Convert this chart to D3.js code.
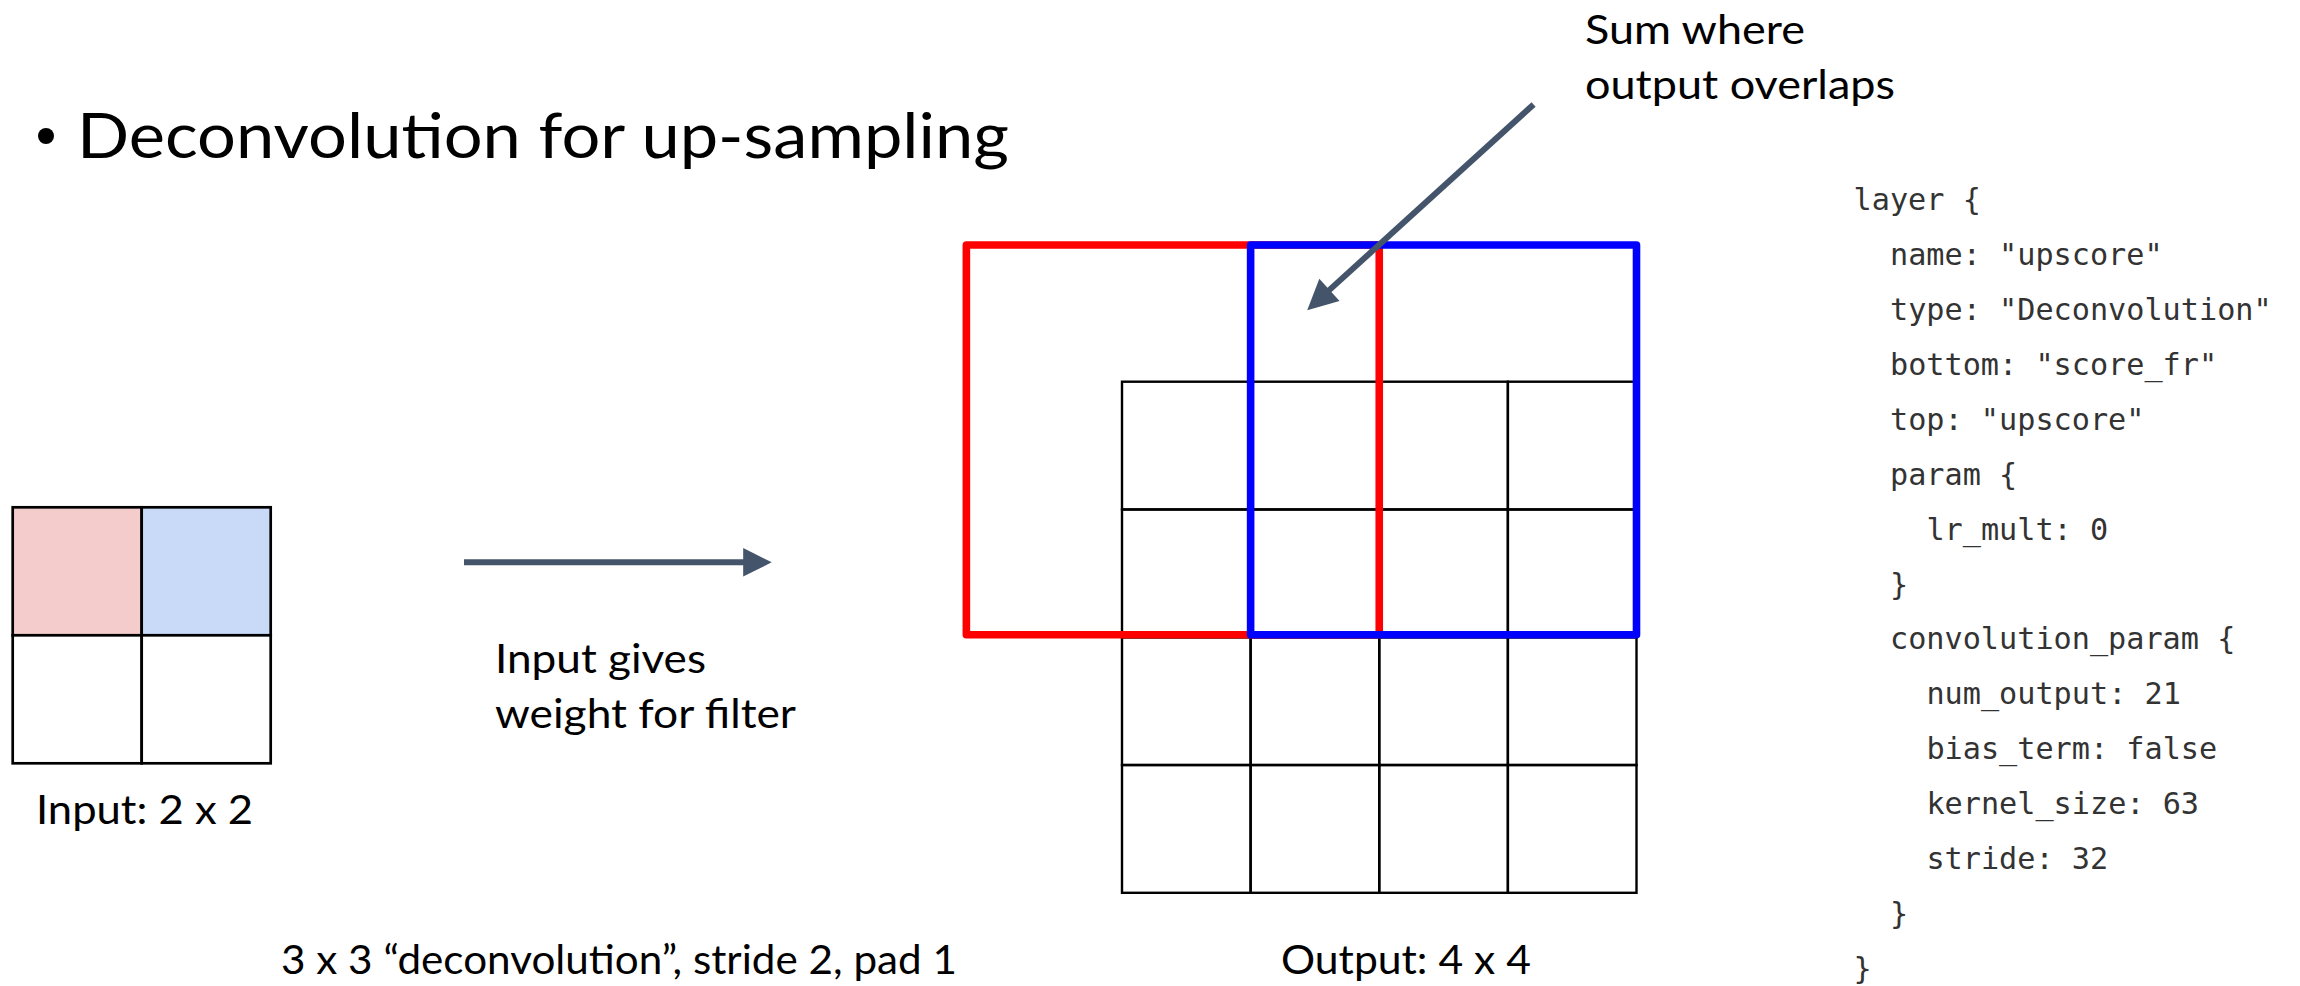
<!DOCTYPE html>
<html>
<head>
<meta charset="utf-8">
<script src="https://cdn.jsdelivr.net/npm/d3@7"></script>
<style>
  html, body { margin: 0; background: #fff; overflow: hidden; }
  .prose { font-family: Lato, "Open Sans", sans-serif; fill: #000; }
  .code { font-family: "DejaVu Sans Mono", "Liberation Mono", monospace; fill: #333; }
</style>
</head>
<body>
<svg id="chart" width="2300" height="986"></svg>
<script>
// values
const titleText = "Deconvolution for up-sampling"
const inputSize = 2
const inputSource = [["a", "b"], [null, null]]   // which filter window each input cell drives
const outputSize = 4
const windowKeys = ["a", "b"]
const windowX0 = [-1.21, 1.0]
const windowX1 = [2.0, 4.0]
const windowY0 = [-1.07, -1.07]
const windowY1 = [1.98, 1.98]
const overlapTip = [1.44, -0.56]
const overlapTail = [3.2, -2.17]
const noteTop = ["Sum where", "output overlaps"]
const noteMid = ["Input gives", "weight for filter"]
const inputLabel = "Input: 2 x 2"
const bottomCaption = "3 x 3 \u201cdeconvolution\u201d, stride 2, pad 1"
const outputLabel = "Output: 4 x 4"
const codeLines = [
    "layer {",
    "name: \"upscore\"",
    "type: \"Deconvolution\"",
    "bottom: \"score_fr\"",
    "top: \"upscore\"",
    "param {",
    "lr_mult: 0",
    "}",
    "convolution_param {",
    "num_output: 21",
    "bias_term: false",
    "kernel_size: 63",
    "stride: 32",
    "}",
    "}"
]
const codeIndent = [0, 1, 1, 1, 1, 1, 2, 1, 1, 2, 2, 2, 2, 1, 0]

const svg = d3.select("#chart")
const arrowColor = "#44546a"

const fillColor = d3.scaleOrdinal().domain(windowKeys).range(["#f4cccc", "#c9daf8"])
const edgeColor = d3.scaleOrdinal().domain(windowKeys).range(["#ff0000", "#0000ff"])

const inX = d3.scaleLinear().domain([0, inputSize]).range([12.7, 270.7])
const inY = d3.scaleLinear().domain([0, inputSize]).range([507.3, 763.3])
const outX = d3.scaleLinear().domain([0, outputSize]).range([1122, 1636.5])
const outY = d3.scaleLinear().domain([0, outputSize]).range([381.7, 892.8])

function addText(x, y, str, size, width, cls) {
    svg.append("text")
        .attr("class", cls || "prose")
        .attr("x", x).attr("y", y)
        .attr("font-size", size)
        .attr("textLength", width)
        .attr("lengthAdjust", "spacingAndGlyphs")
        .text(str)
}

function drawArrow(x1, y1, x2, y2, len, wid) {
    let a = Math.atan2(y2 - y1, x2 - x1)
    let bx = x2 - len * Math.cos(a), by = y2 - len * Math.sin(a)
    let px = -Math.sin(a) * wid / 2, py = Math.cos(a) * wid / 2
    svg.append("line")
        .attr("x1", x1).attr("y1", y1).attr("x2", bx + Math.cos(a)).attr("y2", by + Math.sin(a))
        .attr("stroke", arrowColor).attr("stroke-width", 6)
    svg.append("path")
        .attr("d", `M${x2},${y2}L${bx + px},${by + py}L${bx - px},${by - py}Z`)
        .attr("fill", arrowColor)
}

// title with bullet
svg.append("circle").attr("cx", 46).attr("cy", 136).attr("r", 8).attr("fill", "#000")
addText(77, 158, titleText, 62.5, 932)

// input grid
let inCells = []
inputSource.forEach((row, r) => row.forEach((k, c) => inCells.push({ r: r, c: c, k: k })))
svg.append("g").selectAll("rect")
    .data(inCells)
    .join("rect")
    .attr("x", d => inX(d.c)).attr("y", d => inY(d.r))
    .attr("width", inX(1) - inX(0)).attr("height", inY(1) - inY(0))
    .attr("fill", d => d.k ? fillColor(d.k) : "#fff")
    .attr("stroke", "#000").attr("stroke-width", 2.7)

addText(36, 824, inputLabel, 41, 217)

// arrow + note in the middle
drawArrow(464, 562.3, 771.7, 562.3, 28.5, 28.5)
noteMid.forEach((s, i) => addText(495, 673 + i * 55, s, 41, [211, 301][i]))

// output grid
let outCells = d3.cross(d3.range(outputSize), d3.range(outputSize))
svg.append("g").selectAll("rect")
    .data(outCells)
    .join("rect")
    .attr("x", d => outX(d[1])).attr("y", d => outY(d[0]))
    .attr("width", outX(1) - outX(0)).attr("height", outY(1) - outY(0))
    .attr("fill", "none")
    .attr("stroke", "#000").attr("stroke-width", 2.4)

// filter windows, blue drawn over red
let windows = windowKeys.map((k, i) => ({ k: k, x0: windowX0[i], x1: windowX1[i], y0: windowY0[i], y1: windowY1[i] }))
svg.append("g").selectAll("rect")
    .data(windows)
    .join("rect")
    .attr("x", d => outX(d.x0)).attr("y", d => outY(d.y0))
    .attr("width", d => outX(d.x1) - outX(d.x0))
    .attr("height", d => outY(d.y1) - outY(d.y0))
    .attr("fill", "none")
    .attr("stroke", d => edgeColor(d.k))
    .attr("stroke-width", 7.6)
    .attr("stroke-linejoin", "round")

// overlap arrow + note
drawArrow(outX(overlapTail[0]), outY(overlapTail[1]), outX(overlapTip[0]), outY(overlapTip[1]), 30, 30)
noteTop.forEach((s, i) => addText(1585, 44 + i * 55, s, 41, [220, 310][i]))

// captions under the diagrams
addText(281, 974, bottomCaption, 41, 676)
addText(1281, 974, outputLabel, 41, 250)

// caffe layer definition
const charW = 18.2
svg.append("g").selectAll("text")
    .data(codeLines)
    .join("text")
    .attr("class", "code")
    .attr("x", (d, i) => 1853.6 + codeIndent[i] * 2 * charW)
    .attr("y", (d, i) => 210 + i * 54.93)
    .attr("font-size", 30.2)
    .attr("xml:space", "preserve")
    .text(d => d)
</script>
</body>
</html>
